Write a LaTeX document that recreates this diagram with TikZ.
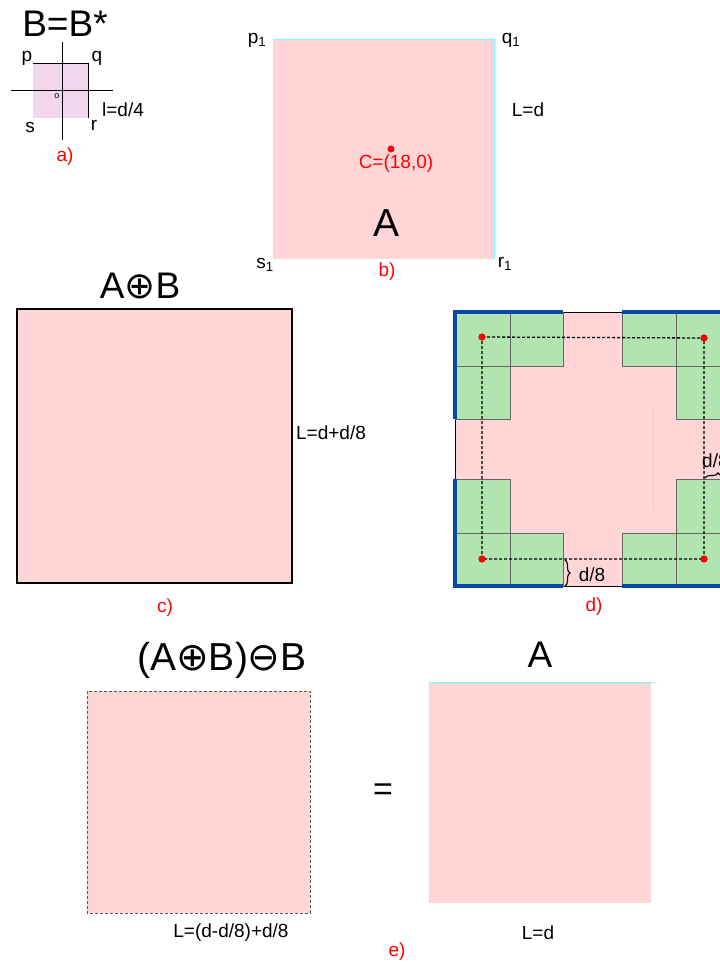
\documentclass[tikz,border=0pt]{standalone}
\usepackage{fontspec}
\setmainfont{Liberation Sans}
\newfontfamily\symfont{DejaVu Sans}
\usetikzlibrary{decorations.pathreplacing}
\definecolor{pinkA}{RGB}{255,213,213}
\definecolor{lilac}{RGB}{242,216,238}
\definecolor{greenB}{RGB}{176,229,176}
\definecolor{blueE}{RGB}{8,72,170}
\definecolor{cyanE}{RGB}{128,255,255}
\definecolor{faintpink}{RGB}{250,200,200}
\begin{document}
\begin{tikzpicture}[x=1pt,y=-1pt,
  lbl/.style={font=\fontsize{19}{22}\selectfont, inner sep=0pt},
  redlbl/.style={lbl, text=red},
  big/.style={font=\fontsize{37}{40}\selectfont, inner sep=0pt},
  cell/.style={fill=greenB, draw=black!60, line width=0.6pt},
  blueedge/.style={draw=blueE, line width=3.4pt},
  dot/.style={circle, fill=red, inner sep=0pt, minimum size=7pt},
  dashline/.style={dash pattern=on 3pt off 2pt, line width=1.3pt},
  bracestyle/.style={decorate, decoration={brace, amplitude=5pt}, line width=1.1pt},
]
\useasboundingbox (0,0) rectangle (720,962);
\clip (0,0) rectangle (720,962);

% ---------- a) ----------
\fill[lilac] (33,63) rectangle (88,118);
\draw[line width=0.6pt] (33,63) -- (88,63) -- (88,118);
\coordinate (vt) at (62,42); \coordinate (vb) at (62,140);
\coordinate (hl) at (11,90); \coordinate (hr) at (113,90);
\draw[line width=0.8pt] (vt) -- (vb);
\draw[line width=0.8pt] (hl) -- (hr);
\node[big] (BB) at (65,24) {B=B*};
\node[lbl] (p) at (27,58) {p};
\node[lbl] (q) at (97,58) {q};
\node[lbl] (s) at (30,127) {s};
\node[lbl] (r) at (94,125) {r};
\node[inner sep=0pt, font=\fontsize{9}{10}\selectfont] (o) at (57,96) {o};
\node[lbl] (l) at (123,110) {l=d/4};
\node[redlbl] (la) at (65,157) {a)};

% ---------- b) ----------
\fill[pinkA] (273,39) rectangle (494,259);
\draw[cyanE, line width=0.8pt] (273,39) -- (494,39) -- (494,259);
\node[lbl] (p1) at (257,40) {p\textsubscript{1}};
\node[lbl] (q1) at (511,40) {q\textsubscript{1}};
\node[lbl] (s1) at (265,265) {s\textsubscript{1}};
\node[lbl] (r1) at (505,264) {r\textsubscript{1}};
\node[lbl] (Ld) at (528,110) {L=d};
\node[dot] (C) at (391,149) {};
\node[redlbl] (Clbl) at (396,164) {C=(18,0)};
\node[big, font=\fontsize{39}{42}\selectfont] (Ab) at (387,223) {A};
\node[redlbl] (lb) at (387,272) {b)};

% ---------- c) ----------
\draw[fill=pinkA, line width=1.2pt] (17,309) rectangle (292,583);
\node[big] (AB) at (140,286) {A{\symfont ⊕}B};
\node[lbl] (Lc) at (331,433) {L=d+d/8};
\node[redlbl] (lc) at (165,608) {c)};

% ---------- d) ----------
\draw[fill=pinkA, line width=0.6pt] (455,312) rectangle (730,586);
\draw[faintpink, line width=0.8pt] (653,405) -- (653,510);
% top-left block
\draw[cell] (455,312) rectangle (510,366);
\draw[cell] (510,312) rectangle (563,366);
\draw[cell] (455,366) rectangle (510,419);
% top-right block
\draw[cell] (622,312) rectangle (676,366);
\draw[cell] (676,312) rectangle (730,366);
\draw[cell] (676,366) rectangle (730,419);
% bottom-left block
\draw[cell] (455,479) rectangle (510,533);
\draw[cell] (455,533) rectangle (510,586);
\draw[cell] (510,533) rectangle (563,586);
% bottom-right block
\draw[cell] (676,479) rectangle (730,533);
\draw[cell] (622,533) rectangle (676,586);
\draw[cell] (676,533) rectangle (730,586);
% blue edges
\draw[blueedge] (455,419) -- (455,312) -- (563,312);
\draw[blueedge] (622,312) -- (730,312) -- (730,419);
\draw[blueedge] (455,479) -- (455,586) -- (563,586);
\draw[blueedge] (622,586) -- (730,586) -- (730,479);
% dashed path through centres
\node[dot] (d1) at (482,337) {};
\node[dot] (d2) at (704,338) {};
\node[dot] (d3) at (482,559) {};
\node[dot] (d4) at (704,559) {};
\draw[dashline] (d1.center) -- (d2.center) -- (d4.center) -- (d3.center) -- cycle;
\fill[red] (d1) circle (3.5pt) (d2) circle (3.5pt) (d3) circle (3.5pt) (d4) circle (3.5pt);
% braces
\coordinate (b1t) at (565,560); \coordinate (b1b) at (565,586);
\draw[bracestyle] (b1t) -- (b1b);
\node[lbl] (d8a) at (592,575) {d/8};
\coordinate (b2l) at (705,478); \coordinate (b2r) at (731,478);
\draw[bracestyle] (b2l) -- (b2r);
\node[lbl, anchor=west] (d8b) at (702,461) {d/8};
\node[redlbl] (ld) at (594,607) {d)};

% ---------- e) ----------
\draw[fill=pinkA, draw=black!65, dash pattern=on 3pt off 2pt, line width=0.8pt] (87,691) rectangle (310,913);
\node[big, font=\fontsize{39}{42}\selectfont] (ABB) at (222,660) {(A{\symfont ⊕}B){\symfont ⊖}B};
\fill[pinkA] (429,682) rectangle (651,903);
\draw[cyanE, line width=0.8pt] (429,903) -- (429,682) -- (651,682);
\node[big] (Ae) at (540,655) {A};
\node[big, font=\fontsize{34}{38}\selectfont] (eq) at (383,792) {=};
\node[lbl] (Le1) at (231,933) {L=(d-d/8)+d/8};
\node[lbl] (Le2) at (538,933) {L=d};
\node[redlbl] (le) at (397,952) {e)};
\end{tikzpicture}
\end{document}
